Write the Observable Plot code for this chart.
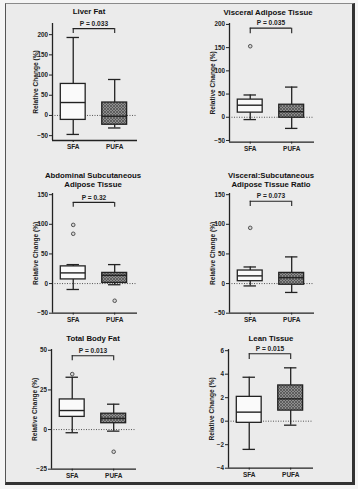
<!DOCTYPE html>
<html><head><meta charset="utf-8">
<script src="https://cdn.jsdelivr.net/npm/d3@7"></script>
<script src="https://cdn.jsdelivr.net/npm/@observablehq/plot@0.6"></script>
<style>
html,body{margin:0;padding:0;background:#f5f5f5;}
#page{position:relative;width:358px;height:489px;overflow:hidden;font-family:"Liberation Sans",Arial,sans-serif;}
#frame{position:absolute;left:5px;top:3px;width:346px;height:478px;background:#ebebeb;border-top:1px solid #8a8a8a;border-left:1px solid #555;border-right:3px solid #333;border-bottom:3px solid #333;}
.title{position:absolute;font-weight:bold;font-size:7.8px;color:#111;text-align:center;line-height:9px;transform:translateX(-50%);white-space:nowrap;}
#page svg{position:absolute;overflow:visible;}
</style></head>
<body>
<div id="page"><div id="frame"></div></div>
<script>
const groups = ["SFA", "PUFA"];
const panelTitles = [["Liver Fat"], ["Visceral Adipose Tissue"], ["Abdominal Subcutaneous", "Adipose Tissue"], ["Visceral:Subcutaneous", "Adipose Tissue Ratio"], ["Total Body Fat"], ["Lean Tissue"]];
const pLabels = ["P = 0.033", "P = 0.035", "P = 0.32", "P = 0.073", "P = 0.013", "P = 0.015"];
const yLabel = "Relative Change (%)";
// [whisker low, Q1, median, Q3, whisker high] for SFA, PUFA
const liverFat = [[-47, -11, 32, 78, 193], [-31, -23, -2, 32, 89]];
const visceralAT = [[-5, 10, 26, 38, 48], [-24, -1, 12, 27, 65]];
const abdominalSAT = [[-10, 7, 18, 29, 32], [-2, 1, 14, 18, 32]];
const vatSatRatio = [[-4, 4, 13, 22, 28], [-15, -2, 10, 18, 45]];
const totalBodyFat = [[-2, 8, 12, 19, 33], [-1, 4, 7, 10, 16]];
const leanTissue = [[-2.4, -0.14, 0.77, 2.07, 3.74], [-0.34, 0.9, 1.9, 3.04, 4.54]];
// outliers [group index, value]
const liverFatOut = [];
const visceralATOut = [[0, 153]];
const abdominalSATOut = [[0, 99], [0, 84], [1, -29]];
const vatSatRatioOut = [[0, 94]];
const totalBodyFatOut = [[0, 35], [1, -14]];
const leanTissueOut = [];
// y tick values
const liverFatTicks = [-50, 0, 50, 100, 150, 200];
const visceralATTicks = [-50, 0, 50, 100, 150, 200];
const abdominalSATTicks = [-50, 0, 50, 100, 150];
const vatSatRatioTicks = [-50, 0, 50, 100, 150];
const totalBodyFatTicks = [-25, 0, 25, 50];
const leanTissueTicks = [-4, -2, 0, 2, 4, 6];
// significance bracket [top, leg end] in data units
const liverFatBracket = [215, 203];
const visceralATBracket = [192, 180];
const abdominalSATBracket = [137, 129];
const vatSatRatioBracket = [139, 130];
const totalBodyFatBracket = [46.6, 43.4];
const leanTissueBracket = [5.74, 5.25];

const panels = [
  {L: 0, axisX: 52, xEnd: 137, yTop: 23, yBot: 140, y: [-62, 227.6], stats: liverFat, out: liverFatOut, ticks: liverFatTicks, br: liverFatBracket, tx: 89, ty: 11},
  {L: 179, axisX: 229, xEnd: 314, yTop: 23, yBot: 141.7, y: [-53.7, 202], stats: visceralAT, out: visceralATOut, ticks: visceralATTicks, br: visceralATBracket, tx: 268, ty: 12},
  {L: 0, axisX: 52, xEnd: 137, yTop: 193, yBot: 312.7, y: [-50, 152], stats: abdominalSAT, out: abdominalSATOut, ticks: abdominalSATTicks, br: abdominalSATBracket, tx: 93, ty: 175},
  {L: 179, axisX: 229, xEnd: 314, yTop: 193, yBot: 312.7, y: [-50, 152], stats: vatSatRatio, out: vatSatRatioOut, ticks: vatSatRatioTicks, br: vatSatRatioBracket, tx: 271, ty: 175},
  {L: 0, axisX: 51, xEnd: 136, yTop: 349, yBot: 468.7, y: [-25, 50.5], stats: totalBodyFat, out: totalBodyFatOut, ticks: totalBodyFatTicks, br: totalBodyFatBracket, tx: 93, ty: 338},
  {L: 179, axisX: 228, xEnd: 313, yTop: 349, yBot: 467.7, y: [-4, 6.1], stats: leanTissue, out: leanTissueOut, ticks: leanTissueTicks, br: leanTissueBracket, tx: 271, ty: 338}
];

const page = document.getElementById("page");
const xMin = 0.5, xMax = 2.55, bw = 0.3, cw = 0.15;
const ink = "#222";

panels.forEach((p, k) => {
  const boxes = p.stats.map((s, i) => ({x: i + 1, lo: s[0], q1: s[1], med: s[2], q3: s[3], hi: s[4]}));
  const outs = p.out.map(([i, v]) => ({x: i + 1, v}));
  const [yMin, yMax] = p.y;
  const mT = 13, mB = 15, W = 179;
  const H = p.yBot - p.yTop + mT + mB;
  const svg = Plot.plot({
    width: W, height: H,
    marginLeft: p.axisX - p.L, marginRight: p.L + W - p.xEnd, marginTop: mT, marginBottom: mB,
    x: {domain: [xMin, xMax]},
    y: {domain: p.y},
    style: {background: "transparent", fontFamily: "'Liberation Sans', Arial, sans-serif", color: ink, overflow: "visible"},
    marks: [
      Plot.ruleY([0], {x1: xMin, x2: xMax, stroke: "#444", strokeWidth: 0.9, strokeDasharray: "1,1.5"}),
      Plot.ruleX(boxes, {x: "x", y1: "lo", y2: "q1", stroke: ink, strokeWidth: 1.3}),
      Plot.ruleX(boxes, {x: "x", y1: "q3", y2: "hi", stroke: ink, strokeWidth: 1.3}),
      Plot.ruleY(boxes, {y: "lo", x1: d => d.x - cw, x2: d => d.x + cw, stroke: ink, strokeWidth: 1.3}),
      Plot.ruleY(boxes, {y: "hi", x1: d => d.x - cw, x2: d => d.x + cw, stroke: ink, strokeWidth: 1.3}),
      Plot.rect(boxes.filter(d => d.x === 1), {x1: d => d.x - bw, x2: d => d.x + bw, y1: "q1", y2: "q3", fill: "#fafafa", stroke: ink, strokeWidth: 1.3}),
      Plot.rect(boxes.filter(d => d.x === 2), {x1: d => d.x - bw, x2: d => d.x + bw, y1: "q1", y2: "q3", fill: `url(#hatch${k})`, stroke: ink, strokeWidth: 1.3}),
      Plot.ruleY(boxes, {y: "med", x1: d => d.x - bw, x2: d => d.x + bw, stroke: ink, strokeWidth: 1.4}),
      Plot.dot(outs, {x: "x", y: "v", r: 1.8, stroke: "#444", fill: "#d6d6d6", strokeWidth: 0.9}),
      Plot.ruleX([xMin], {y1: yMin, y2: yMax, stroke: ink, strokeWidth: 1.3}),
      Plot.ruleY([yMin], {x1: xMin, x2: xMax, stroke: ink, strokeWidth: 1.3}),
      Plot.axisY({ticks: p.ticks, tickSize: 3, tickPadding: 1.5, fontSize: 6.3, fontWeight: "bold", label: null, stroke: ink}),
      Plot.axisX({ticks: [1, 2], tickFormat: d => groups[d - 1], tickSize: 2, tickPadding: 2, fontSize: 6.5, fontWeight: "bold", label: null, stroke: ink}),
      Plot.text([yLabel], {text: d => d, frameAnchor: "left", textAnchor: "middle", rotate: -90, dx: -17, fontSize: 6.6, fontWeight: "bold", fill: ink}),
      Plot.ruleY([p.br[0]], {x1: 1, x2: 2, stroke: ink, strokeWidth: 1.1}),
      Plot.ruleX([1, 2], {y1: p.br[1], y2: p.br[0], stroke: ink, strokeWidth: 1.1}),
      Plot.text([pLabels[k]], {text: d => d, x: 1.5, y: p.br[0], dy: -5, fontSize: 6.6, fontWeight: "bold", fill: ink})
    ]
  });
  d3.select(svg).insert("defs", ":first-child").html(
    `<pattern id="hatch${k}" width="3" height="3" patternUnits="userSpaceOnUse"><rect width="3" height="3" fill="#8e8e8e"/><path d="M0,0L3,3M3,0L0,3" stroke="#4a4a4a" stroke-width="0.7"/></pattern>`);
  svg.style.left = p.L + "px";
  svg.style.top = (p.yTop - mT) + "px";
  page.appendChild(svg);
  const t = document.createElement("div");
  t.className = "title";
  t.style.left = p.tx + "px";
  t.style.top = (p.ty - 4.5) + "px";
  t.innerHTML = panelTitles[k].join("<br>");
  page.appendChild(t);
});
</script>
</body></html>
